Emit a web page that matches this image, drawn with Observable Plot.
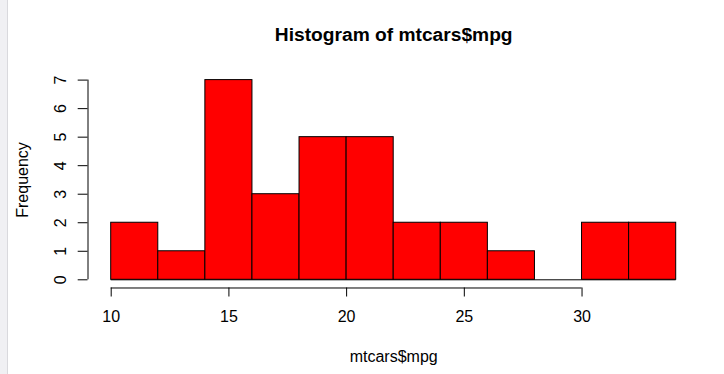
<!DOCTYPE html>
<html>
<head>
<meta charset="utf-8">
<script src="https://cdn.jsdelivr.net/npm/d3@7"></script>
<script src="https://cdn.jsdelivr.net/npm/@observablehq/plot@0.6"></script>
<style>
  html, body { margin: 0; padding: 0; background: white; }
  #wrap { position: relative; width: 724px; height: 374px; overflow: hidden; }
  #strip { position: absolute; left: 0; top: 0; width: 7px; height: 374px; background: #f0f0f3; border-right: 1px solid #d9d9dd; }
</style>
</head>
<body>
<div id="wrap"><div id="chart"></div><div id="strip"></div></div>
<script>
// Data: histogram of mtcars$mpg
const breaks = [10, 12, 14, 16, 18, 20, 22, 24, 26, 28, 30, 32, 34];
const counts = [2, 1, 7, 3, 5, 5, 2, 2, 1, 0, 2, 2];
const xTicks = [10, 15, 20, 25, 30];
const yTicks = [0, 1, 2, 3, 4, 5, 6, 7];
const title = "Histogram of mtcars$mpg";
const xLabel = "mtcars$mpg";
const yLabel = "Frequency";

const bins = counts.map((c, i) => ({x1: breaks[i], x2: breaks[i + 1], count: c}));
const xMid = (breaks[0] + breaks[breaks.length - 1]) / 2;
const yMid = (yTicks[0] + yTicks[yTicks.length - 1]) / 2;
const font = "'Liberation Sans', Arial, sans-serif";

const chart = Plot.plot({
  width: 724,
  height: 374,
  marginLeft: 87.5,
  marginRight: 48.3,
  marginTop: 79.5,
  marginBottom: 86.5,
  x: {domain: [breaks[0], breaks[breaks.length - 1]], range: [110.7, 675.7]},
  y: {domain: [yTicks[0], yTicks[yTicks.length - 1]], range: [279.3, 79.6]},
  style: {fontFamily: font, fontSize: "16px", color: "black", background: "white"},
  marks: [
    Plot.ruleY([0], {x1: breaks[0], x2: breaks[breaks.length - 1], stroke: "black", strokeWidth: 1}),
    Plot.rectY(bins, {x1: "x1", x2: "x2", y: "count", fill: "#ff0000", stroke: "black", strokeWidth: 1}),
    // x axis
    Plot.ruleY([0], {x1: xTicks[0], x2: xTicks[xTicks.length - 1], dy: 8.2, stroke: "black"}),
    Plot.axisX(xTicks, {tickSize: 9, tickPadding: 14, fontSize: 16, label: null, tickFormat: d => String(d)}),
    // y axis
    Plot.ruleX([breaks[0]], {y1: yTicks[0], y2: yTicks[yTicks.length - 1], dx: -23.2, stroke: "black"}),
    Plot.axisY(yTicks, {tickSize: 9.8, label: null, tickFormat: () => ""}),
    Plot.text(yTicks, {y: d => d, text: d => String(d), frameAnchor: "left", dx: -22.5, rotate: -90,
      textAnchor: "middle", lineAnchor: "bottom", fontSize: 16}),
    // labels
    Plot.text([xLabel], {x: xMid, text: d => d, frameAnchor: "bottom", dy: 74.2, lineAnchor: "bottom",
      textAnchor: "middle", fontSize: 16}),
    Plot.text([yLabel], {y: yMid, text: d => d, frameAnchor: "left", dx: -60, rotate: -90,
      lineAnchor: "bottom", textAnchor: "middle", fontSize: 16}),
    Plot.text([title], {x: xMid, text: d => d, frameAnchor: "top", dy: -39.5, lineAnchor: "bottom",
      textAnchor: "middle", fontSize: 19.2, fontWeight: "bold"})
  ]
});
document.getElementById("chart").appendChild(chart);
</script>
</body>
</html>
